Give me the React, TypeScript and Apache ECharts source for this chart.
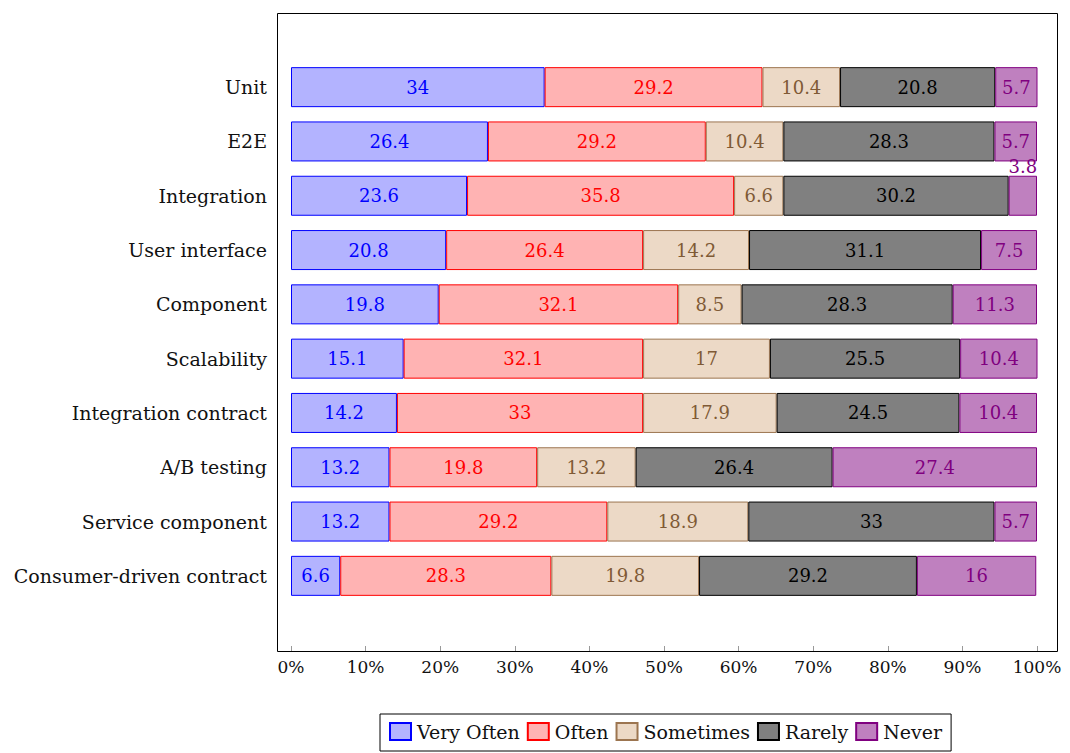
import React, { useEffect, useRef } from "react";
import * as echarts from "echarts";

const categories = [
  "Unit",
  "E2E",
  "Integration",
  "User interface",
  "Component",
  "Scalability",
  "Integration contract",
  "A/B testing",
  "Service component",
  "Consumer-driven contract",
];
const veryOften = [34, 26.4, 23.6, 20.8, 19.8, 15.1, 14.2, 13.2, 13.2, 6.6];
const often = [29.2, 29.2, 35.8, 26.4, 32.1, 32.1, 33, 19.8, 29.2, 28.3];
const sometimes = [10.4, 10.4, 6.6, 14.2, 8.5, 17, 17.9, 13.2, 18.9, 19.8];
const rarely = [20.8, 28.3, 30.2, 31.1, 28.3, 25.5, 24.5, 26.4, 33, 29.2];
const never = [5.7, 5.7, 3.8, 7.5, 11.3, 10.4, 10.4, 27.4, 5.7, 16];
const xTicks = [0, 10, 20, 30, 40, 50, 60, 70, 80, 90, 100];

const FONT = "DejaVu Serif";

export default function App() {
  const ref = useRef<HTMLDivElement>(null);
  useEffect(() => {
    if (!ref.current) return;
    const chart = echarts.init(ref.current, undefined, { renderer: "svg" });
    const mk = (
      name: string,
      data: number[],
      fill: string,
      stroke: string,
      labelColor: string,
      special?: (v: number, i: number) => any
    ) => ({
      name,
      type: "bar",
      stack: "total",
      barWidth: 40,
      itemStyle: { color: fill, borderColor: stroke, borderWidth: 1 },
      label: {
        show: true,
        position: "inside",
        color: labelColor,
        fontFamily: FONT,
        fontSize: 18,
        formatter: (p: any) => String(p.value),
      },
      data: data.map((v, i) => (special ? special(v, i) : v)),
    });
    chart.setOption({
      animation: false,
      textStyle: { fontFamily: FONT },
      grid: { left: 291, right: 33, top: 60, bottom: 150 },
      xAxis: {
        type: "value",
        min: 0,
        max: 100,
        interval: 10,
        offset: 48,
        axisLine: { show: false },
        splitLine: { show: false },
        axisTick: { show: true, inside: true, length: 5, lineStyle: { color: "#999" } },
        axisLabel: {
          fontFamily: FONT,
          fontSize: 17,
          color: "#111",
          margin: 7,
          formatter: (v: number) => (xTicks.includes(v) ? v + "%" : ""),
        },
      },
      yAxis: {
        type: "category",
        inverse: true,
        data: categories,
        offset: 14,
        axisLine: { show: false },
        axisTick: { show: true, inside: true, length: 5, alignWithLabel: true, lineStyle: { color: "#999" } },
        axisLabel: { fontFamily: FONT, fontSize: 19, color: "#111", margin: 10 },
      },
      legend: {
        left: 380,
        top: 714,
        orient: "horizontal",
        itemWidth: 21,
        itemHeight: 17,
        itemGap: 7,
        padding: [8, 9, 10, 9],
        borderColor: "#000",
        borderWidth: 1,
        icon: "rect",
        textStyle: { fontFamily: FONT, fontSize: 19, color: "#111", padding: [0, 0, 0, 1] },
        data: ["Very Often", "Often", "Sometimes", "Rarely", "Never"],
      },
      graphic: [
        {
          type: "rect",
          shape: { x: 277.5, y: 13.5, width: 780, height: 638 },
          style: { fill: "none", stroke: "#000", lineWidth: 1 },
          silent: true,
        },
      ],
      series: [
        mk("Very Often", veryOften, "#b3b3ff", "#0000ff", "#0000ff"),
        mk("Often", often, "#ffb3b3", "#ff0000", "#ff0000"),
        mk("Sometimes", sometimes, "#ecd9c6", "#9c7550", "#7f5a35"),
        mk("Rarely", rarely, "#808080", "#000000", "#000000"),
        mk("Never", never, "#bf80bf", "#800080", "#800080", (v, i) =>
          v < 5 ? { value: v, label: { position: "top", distance: 0 } } : v
        ),
      ],
    });
    return () => chart.dispose();
  }, []);
  return (
    <div
      ref={ref}
      style={{ position: "fixed", left: 0, top: 0, width: 1070, height: 753, background: "#fff" }}
    />
  );
}
